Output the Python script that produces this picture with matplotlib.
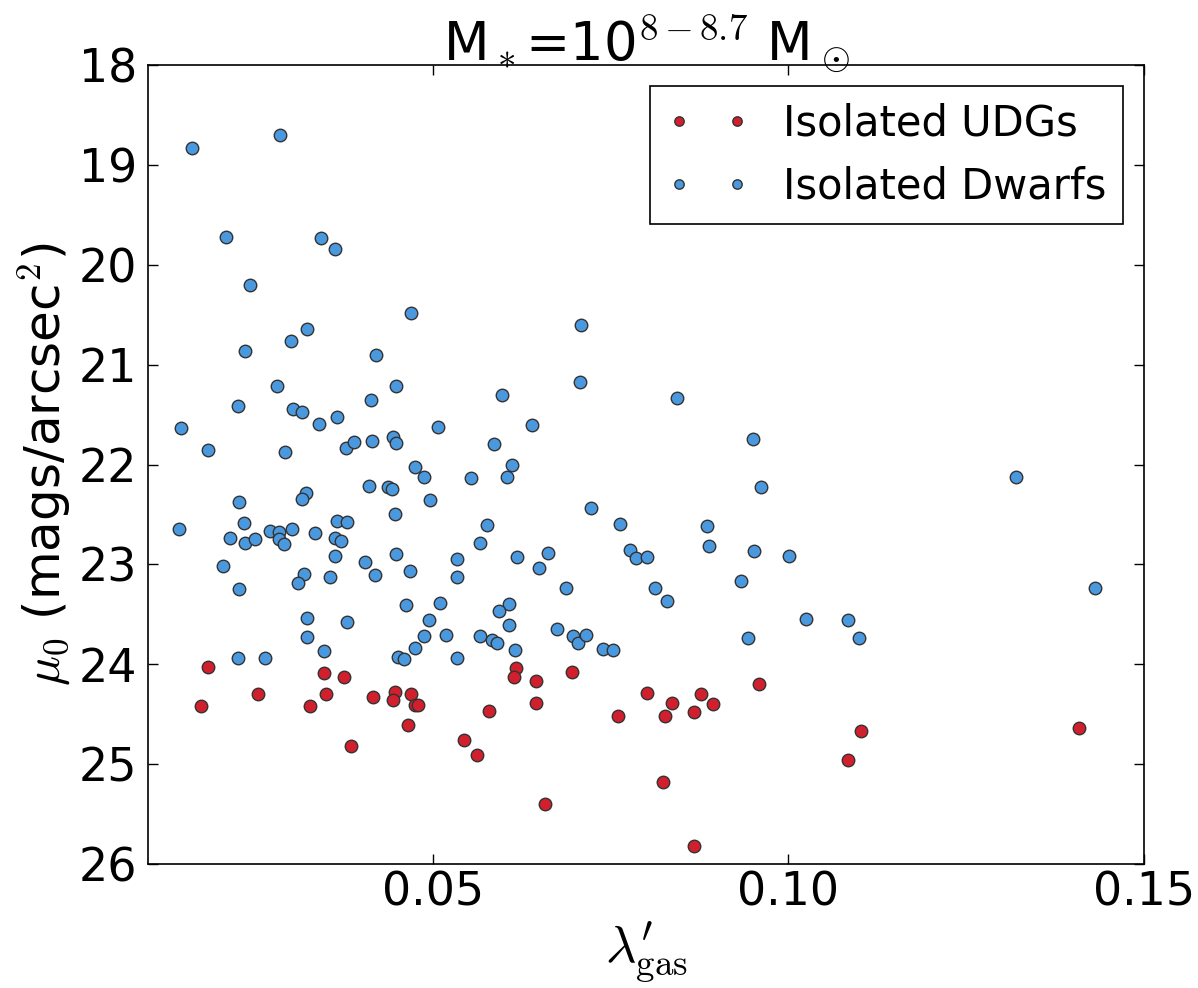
import numpy as np
import matplotlib
matplotlib.use('Agg')
import matplotlib.pyplot as plt

plt.rcParams['mathtext.fontset'] = 'cm'
plt.rcParams['font.family'] = 'DejaVu Sans'

# isolated dwarfs (blue)
dwarf_lam = [0.0162, 0.0286, 0.0210, 0.0343, 0.0363, 0.0243, 0.0470, 0.0324, 0.0301, 0.0236,
             0.0421, 0.0281, 0.0448, 0.0414, 0.0226, 0.0304, 0.0317, 0.0340, 0.0365, 0.0147,
             0.0508, 0.0184, 0.0292, 0.0378, 0.0390, 0.0415, 0.0445, 0.0448, 0.0475, 0.0488,
             0.0410, 0.0437, 0.0443, 0.0497, 0.0322, 0.0316, 0.0228, 0.0447, 0.0235, 0.0144,
             0.0215, 0.0236, 0.0251, 0.0271, 0.0284, 0.0284, 0.0291, 0.0302, 0.0335, 0.0365,
             0.0380, 0.0363, 0.0371, 0.0363, 0.0448, 0.0405, 0.0468, 0.0419, 0.0356, 0.0319,
             0.0311, 0.0205, 0.0228, 0.0534, 0.0534, 0.0510, 0.0462, 0.0495, 0.0488, 0.0519,
             0.0476, 0.0452, 0.0460, 0.0534, 0.0324, 0.0380, 0.0324, 0.0347, 0.0226, 0.0265,
             0.0709, 0.0707, 0.0597, 0.0843, 0.0640, 0.0587, 0.0950, 0.0612, 0.0554, 0.0605,
             0.0962, 0.0722, 0.0577, 0.0763, 0.0886, 0.0567, 0.0889, 0.0618, 0.0662, 0.0649,
             0.0778, 0.0786, 0.0801, 0.0952, 0.1001, 0.0934, 0.0688, 0.0812, 0.0830, 0.0608,
             0.0593, 0.0607, 0.0567, 0.0583, 0.0590, 0.0616, 0.0675, 0.0697, 0.0704, 0.0715,
             0.0740, 0.0753, 0.0944, 0.1320, 0.1431, 0.1025, 0.1084, 0.1100]
dwarf_mu = [18.83, 18.70, 19.72, 19.73, 19.84, 20.20, 20.48, 20.64, 20.76, 20.86,
            20.90, 21.21, 21.21, 21.35, 21.41, 21.44, 21.47, 21.59, 21.52, 21.63,
            21.62, 21.85, 21.87, 21.83, 21.77, 21.76, 21.72, 21.78, 22.02, 22.12,
            22.21, 22.22, 22.24, 22.35, 22.28, 22.34, 22.37, 22.49, 22.58, 22.64,
            22.74, 22.79, 22.75, 22.66, 22.67, 22.75, 22.80, 22.64, 22.68, 22.56,
            22.57, 22.74, 22.77, 22.92, 22.90, 22.98, 23.07, 23.11, 23.13, 23.10,
            23.19, 23.02, 23.25, 22.95, 23.13, 23.39, 23.41, 23.56, 23.72, 23.71,
            23.84, 23.93, 23.95, 23.94, 23.54, 23.58, 23.73, 23.87, 23.94, 23.94,
            20.60, 21.17, 21.30, 21.33, 21.60, 21.79, 21.74, 22.00, 22.13, 22.12,
            22.22, 22.43, 22.60, 22.59, 22.61, 22.79, 22.82, 22.93, 22.89, 23.04,
            22.86, 22.94, 22.93, 22.87, 22.92, 23.17, 23.24, 23.24, 23.37, 23.40,
            23.47, 23.61, 23.72, 23.76, 23.79, 23.86, 23.65, 23.72, 23.79, 23.71,
            23.85, 23.86, 23.74, 22.12, 23.24, 23.55, 23.56, 23.74]

# isolated UDGs (red)
udg_lam = [0.0184, 0.0174, 0.0254, 0.0328, 0.0347, 0.0350, 0.0375, 0.0386, 0.0416, 0.0447,
           0.0444, 0.0470, 0.0475, 0.0480, 0.0465, 0.0617, 0.0615, 0.0645, 0.0645, 0.0696,
           0.0579, 0.0544, 0.0563, 0.0658, 0.0761, 0.0802, 0.0837, 0.0826, 0.0867, 0.0877,
           0.0894, 0.0959, 0.0824, 0.0867, 0.1102, 0.1084, 0.1409]
udg_mu = [24.03, 24.42, 24.30, 24.42, 24.09, 24.30, 24.13, 24.82, 24.33, 24.28,
          24.36, 24.30, 24.41, 24.41, 24.61, 24.04, 24.13, 24.17, 24.39, 24.08,
          24.47, 24.76, 24.91, 25.40, 24.52, 24.29, 24.39, 24.52, 24.48, 24.30,
          24.40, 24.20, 25.18, 25.82, 24.67, 24.96, 24.64]

fig = plt.figure(figsize=(11.98, 9.88), dpi=100)
ax = fig.add_axes([0.1235, 0.1255, 0.8315, 0.8085])

ax.plot(udg_lam, udg_mu, 'o', color='#d21f2d', mec='#333333', mew=1, ms=9, label='Isolated UDGs')
ax.plot(dwarf_lam, dwarf_mu, 'o', color='#4a98de', mec='#333333', mew=1, ms=9, label='Isolated Dwarfs')

ax.set_xlim(0.01, 0.15)
ax.set_ylim(26, 18)
ax.set_xticks([0.05, 0.10, 0.15])
ax.set_xticklabels(['0.05', '0.10', '0.15'])
ax.set_yticks(np.arange(18, 27, 1))
ax.tick_params(direction='in', top=True, right=True, length=7, width=1, labelsize=33)
ax.tick_params(axis='x', pad=5)
ax.tick_params(axis='y', pad=8)
for s in ax.spines.values():
    s.set_linewidth(1.2)

ax.set_xlabel(r"$\lambda^{\prime}_{\rm gas}$", fontsize=38, labelpad=2)
ax.set_ylabel(r'$\mu_0$ (mags/arcsec$^2$)', fontsize=36)
ax.set_title(r'M$_*$=10$^{8-8.7}$ M$_\odot$', fontsize=38, pad=4)

leg = ax.legend(loc='upper right', numpoints=2, markerscale=0.75, fontsize=30,
                fancybox=False, framealpha=1, edgecolor='black', borderaxespad=0.5)
leg.get_frame().set_linewidth(1.2)

fig.savefig('out.png', dpi=100)
